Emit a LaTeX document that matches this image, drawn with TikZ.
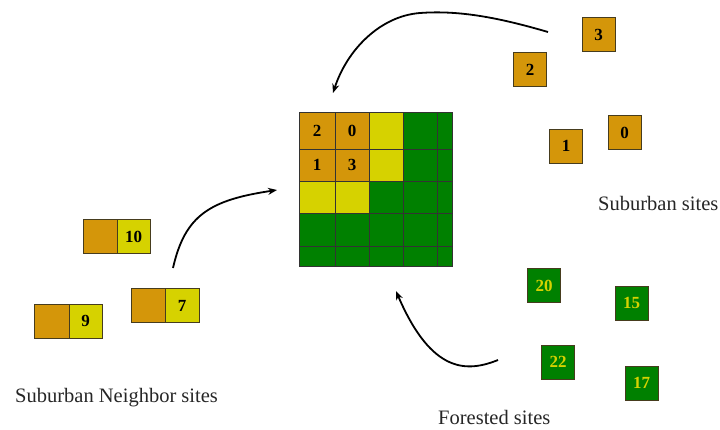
\documentclass[tikz,border=0pt]{standalone}
\usepackage{fontspec}
\setmainfont{Liberation Serif}
\usetikzlibrary{arrows.meta}
\definecolor{sorange}{RGB}{212,150,10}
\definecolor{syellow}{RGB}{214,210,0}
\definecolor{sgreen}{RGB}{0,128,0}
\definecolor{sedge}{RGB}{70,60,30}
\tikzset{
  cellbox/.style={draw=sedge, line width=0.9pt, inner sep=0pt, minimum width=33pt, minimum height=34pt, font=\fontsize{17}{17}\selectfont\bfseries},
  obox/.style={cellbox, fill=sorange},
  ybox/.style={cellbox, fill=syellow},
  gbox/.style={cellbox, fill=sgreen, text=syellow},
  gnum/.style={font=\fontsize{17}{17}\selectfont\bfseries},
  lbl/.style={anchor=west, inner sep=0pt, text=black!85, font=\fontsize{20.5}{20.5}\selectfont},
  flow/.style={line width=1.8pt, -{Stealth[length=9pt,width=7pt]}},
  gridline/.style={draw=black!80, line width=0.7pt}
}
\begin{document}
\begin{tikzpicture}[x=1pt,y=-1pt]
\useasboundingbox (0,0) rectangle (720,429);
% grid fills
\fill[sorange] (299,112) rectangle (369,181);
\fill[syellow] (369,112) rectangle (403,181);
\fill[syellow] (299,181) rectangle (369,213);
\fill[sgreen] (403,112) rectangle (452,181);
\fill[sgreen] (369,181) rectangle (452,213);
\fill[sgreen] (299,213) rectangle (452,266);
% grid lines
\foreach \x in {335,369,403,437} \draw[gridline] (\x,112) -- (\x,266);
\foreach \y in {149,181,213,246} \draw[gridline] (299,\y) -- (452,\y);
\node[draw=black!80, line width=0.9pt, minimum width=153pt, minimum height=154pt, inner sep=0pt] (grid) at (375.5,189) {};
\node[gnum] (g2) at (317,130.5) {2};
\node[gnum] (g0) at (352,130.5) {0};
\node[gnum] (g1) at (317,165) {1};
\node[gnum] (g3) at (352,165) {3};
% suburban sites
\node[obox] (s3) at (598.5,34.5) {3};
\node[obox] (s2) at (530,69.5) {2};
\node[obox] (s1) at (566,146) {1};
\node[obox] (s0) at (624.5,132.5) {0};
\node[lbl] (slbl) at (598,203) {Suburban sites};
% suburban neighbor sites
\node[obox, minimum width=34pt] (n10a) at (100,236.5) {};
\node[ybox, minimum width=33pt] (n10b) at (133.5,236.5) {10};
\node[obox, minimum width=35pt] (n9a) at (51.5,321) {};
\node[ybox, minimum width=33pt] (n9b) at (85.5,321) {9};
\node[obox, minimum width=34pt] (n7a) at (148,305.5) {};
\node[ybox, minimum width=34pt] (n7b) at (182,305.5) {7};
\node[lbl] (nlbl) at (15,398) {Suburban Neighbor sites};
% forested sites
\node[gbox] (f20) at (544,285.5) {20};
\node[gbox] (f15) at (631.5,303) {15};
\node[gbox] (f22) at (558,362) {22};
\node[gbox] (f17) at (641.5,383) {17};
\node[lbl] (flbl) at (438,417) {Forested sites};
% arrows
\coordinate (a1s) at (548,32);
\coordinate (a1m) at (420,13);
\coordinate (a1e) at (333,93);
\coordinate (a2s) at (173,268);
\coordinate (a2e) at (277,190);
\coordinate (a3s) at (498,360);
\coordinate (a3e) at (396,291);
\draw[flow] (a1s) .. controls (500,18) and (460,10) .. (a1m) .. controls (380,16) and (347,50) .. (a1e);
\draw[flow] (a2s) .. controls (185,215) and (210,200) .. (a2e);
\draw[flow] (a3s) .. controls (468,372) and (432,375) .. (a3e);
\end{tikzpicture}
\end{document}
